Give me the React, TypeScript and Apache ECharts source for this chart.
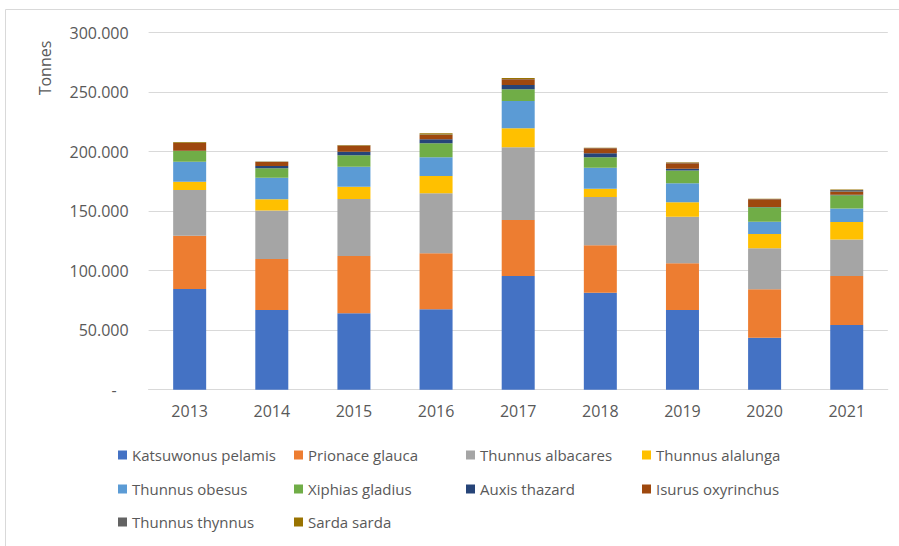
import React, { useEffect, useRef } from "react";
import * as echarts from "echarts";

const years = ["2013", "2014", "2015", "2016", "2017", "2018", "2019", "2020", "2021"];
const katsuwonus = [84600, 67000, 64200, 67600, 95500, 81500, 67000, 43700, 54400];
const prionace = [44800, 42900, 48100, 47100, 47100, 39800, 39200, 40700, 41200];
const albacares = [38400, 40600, 47900, 50400, 61100, 40600, 39200, 34500, 30700];
const alalunga = [7000, 9600, 10300, 14500, 16000, 7000, 12100, 12000, 14700];
const obesus = [16800, 18100, 16800, 15700, 22900, 17600, 16000, 10300, 11200];
const xiphias = [9000, 7900, 9800, 11800, 9800, 8900, 10600, 12100, 11200];
const auxis = [300, 1900, 2800, 3400, 3600, 3400, 1500, 300, 500];
const isurus = [6500, 3300, 5200, 3500, 4800, 4200, 4700, 6400, 2500];
const thynnus = [200, 200, 200, 500, 300, 200, 500, 200, 1500];
const sarda = [500, 200, 300, 1000, 800, 200, 300, 200, 300];

const seriesNames = [
  "Katsuwonus pelamis",
  "Prionace glauca",
  "Thunnus albacares",
  "Thunnus alalunga",
  "Thunnus obesus",
  "Xiphias gladius",
  "Auxis thazard",
  "Isurus oxyrinchus",
  "Thunnus thynnus",
  "Sarda sarda",
];
const seriesData = [katsuwonus, prionace, albacares, alalunga, obesus, xiphias, auxis, isurus, thynnus, sarda];
const colors = ["#4472C4", "#ED7D31", "#A5A5A5", "#FFC000", "#5B9BD5", "#70AD47", "#264478", "#9E480E", "#636363", "#997300"];

const FONT = "'Open Sans', sans-serif";
const TEXT = "#595959";

const legendCols = [118, 294, 466, 642];
const legendRows = [455, 489, 522];

export default function App() {
  const ref = useRef<HTMLDivElement>(null);
  useEffect(() => {
    if (!ref.current) return;
    const chart = echarts.init(ref.current, null, { renderer: "svg" });
    const legends = seriesNames.map((name, i) => ({
      data: [name],
      left: legendCols[i % 4],
      top: legendRows[Math.floor(i / 4)] - 9,
      orient: "horizontal",
      padding: 0,
      itemWidth: 9,
      itemHeight: 9,
      itemGap: 5,
      icon: "rect",
      selectedMode: false,
      textStyle: { fontFamily: FONT, fontSize: 15, color: TEXT, lineHeight: 18, padding: [0, 0, 0, 0] },
    }));
    chart.setOption({
      animation: false,
      backgroundColor: "#ffffff",
      color: colors,
      grid: { left: 148.6, right: 11.2, top: 32.7, bottom: 156.3, containLabel: false },
      legend: legends,
      xAxis: {
        type: "category",
        data: years,
        axisLine: { show: true, lineStyle: { color: "#D9D9D9", width: 1 } },
        axisTick: { show: false },
        axisLabel: { fontFamily: FONT, fontSize: 16, color: TEXT, margin: 13 },
      },
      yAxis: {
        type: "value",
        min: 0,
        max: 300000,
        interval: 50000,
        axisLine: { show: false },
        axisTick: { show: false },
        splitLine: { lineStyle: { color: "#D9D9D9", width: 1 } },
        axisLabel: {
          fontFamily: FONT,
          fontSize: 16,
          color: TEXT,
          margin: 20,
          formatter: (v: number) => {
            if (v === 0) return "{dash|-}";
            return v.toLocaleString("en-US").replace(/,/g, ".");
          },
          rich: {
            dash: { fontFamily: FONT, fontSize: 16, color: TEXT, padding: [0, 12, 0, 0] },
          },
        },
      },
      graphic: [
        {
          type: "rect",
          shape: { x: 5.5, y: 9.5, width: 1000, height: 1000 },
          style: { fill: "none", stroke: "#D9D9D9", lineWidth: 1 },
          silent: true,
          z: -1,
        },
        {
          type: "text",
          x: 45,
          y: 68,
          rotation: Math.PI / 2,
          style: {
            text: "Tonnes",
            fontFamily: FONT,
            fontSize: 16,
            fill: TEXT,
            align: "center",
            verticalAlign: "middle",
          },
        },
      ],
      series: seriesNames.map((name, i) => ({
        name,
        type: "bar",
        stack: "total",
        barWidth: 33,
        data: seriesData[i],
        itemStyle: { color: colors[i] },
      })),
    });
    return () => chart.dispose();
  }, []);
  return (
    <div
      ref={ref}
      style={{ position: "fixed", left: 0, top: 0, width: 899, height: 546, background: "#fff" }}
    />
  );
}
